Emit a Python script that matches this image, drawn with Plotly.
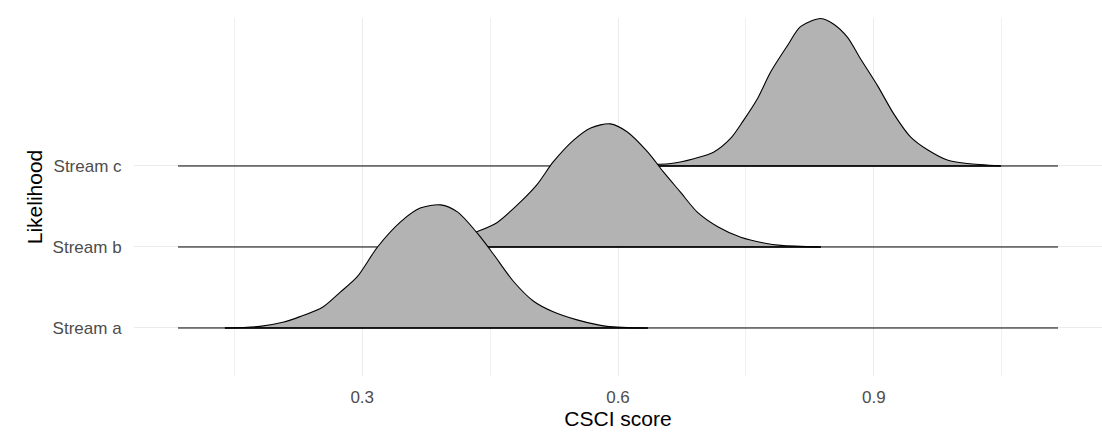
import plotly.graph_objects as go

# ---- data ----
streams = ["Stream a", "Stream b", "Stream c"]
stream_pos = [1, 2, 3]

x_a = [0.139, 0.180, 0.207, 0.227, 0.254, 0.274, 0.294, 0.318, 0.345, 0.368,
       0.392, 0.412, 0.435, 0.454, 0.477, 0.501, 0.524, 0.552, 0.587, 0.635]
dens_a = [0, 0.02, 0.07, 0.14, 0.26, 0.44, 0.63, 1.00, 1.31, 1.48,
          1.52, 1.43, 1.17, 0.91, 0.58, 0.33, 0.20, 0.10, 0.02, 0]

x_b = [0.340, 0.365, 0.390, 0.412, 0.435, 0.458, 0.486, 0.505, 0.524, 0.548,
       0.568, 0.591, 0.611, 0.635, 0.653, 0.673, 0.693, 0.717, 0.744, 0.771,
       0.791, 0.838]
dens_b = [0, 0.02, 0.05, 0.10, 0.19, 0.30, 0.56, 0.77, 1.05, 1.32,
          1.47, 1.52, 1.42, 1.17, 0.93, 0.68, 0.43, 0.25, 0.12, 0.05,
          0.02, 0]

x_c = [0.550, 0.600, 0.646, 0.662, 0.689, 0.712, 0.732, 0.747, 0.764, 0.779,
       0.799, 0.814, 0.838, 0.853, 0.869, 0.884, 0.905, 0.923, 0.943, 0.963,
       0.987, 1.010, 1.049]
dens_c = [0, 0.01, 0.02, 0.03, 0.09, 0.17, 0.34, 0.56, 0.84, 1.16,
          1.49, 1.72, 1.82, 1.75, 1.59, 1.33, 0.98, 0.65, 0.36, 0.20,
          0.07, 0.03, 0]

baseline_range = [0.084, 1.116]
x_ticks = [0.3, 0.6, 0.9]
x_ticklabels = ["0.3", "0.6", "0.9"]

# ---- figure ----
FILL = "#B3B3B3"
fig = go.Figure()

ridges = [(x_a, dens_a, 1), (x_b, dens_b, 2), (x_c, dens_c, 3)]
# draw top ridge first so lower ridges overlap it
for xs, ds, base in reversed(ridges):
    py = [base + d for d in ds]
    fig.add_trace(go.Scatter(
        x=xs, y=py, mode="lines", fill="toself", fillcolor=FILL,
        line=dict(color="black", width=1.1, shape="spline", smoothing=0.8),
        hoverinfo="skip", showlegend=False))
    fig.add_trace(go.Scatter(
        x=baseline_range, y=[base, base], mode="lines",
        line=dict(color="black", width=1), hoverinfo="skip", showlegend=False))
    fig.add_trace(go.Scatter(
        x=[xs[0], xs[-1]], y=[base, base], mode="lines",
        line=dict(color="black", width=1.4), hoverinfo="skip", showlegend=False))

fig.update_layout(
    width=1102, height=440,
    margin=dict(l=134, r=0, t=18, b=64),
    paper_bgcolor="white", plot_bgcolor="white",
    font=dict(family="Liberation Sans, Arial, sans-serif", color="#4D4D4D"),
    showlegend=False,
)
fig.update_xaxes(
    range=[0.0324, 1.1676],
    tickvals=x_ticks, ticktext=x_ticklabels,
    tickfont=dict(size=17, color="#4D4D4D"),
    ticks="outside", ticklen=6, tickcolor="rgba(0,0,0,0)",
    showgrid=True, gridcolor="#EBEBEB", gridwidth=1,
    minor=dict(dtick=0.15, tick0=0, showgrid=True, gridcolor="#F0F0F0", gridwidth=1),
    zeroline=False, showline=False, automargin=False,
    title=dict(text="CSCI score", font=dict(size=21, color="black"), standoff=4),
)
fig.update_yaxes(
    range=[0.407, 4.827],
    tickvals=stream_pos, ticktext=streams,
    tickfont=dict(size=17, color="#4D4D4D"),
    ticks="outside", ticklen=8, tickcolor="rgba(0,0,0,0)",
    showgrid=True, gridcolor="#EBEBEB", gridwidth=1,
    zeroline=False, showline=False, automargin=False,
    title=dict(text="Likelihood", font=dict(size=21, color="black"), standoff=4),
)

fig.write_html("out.html", config={"displayModeBar": False},
               post_script="document.body.style.margin='0';")
